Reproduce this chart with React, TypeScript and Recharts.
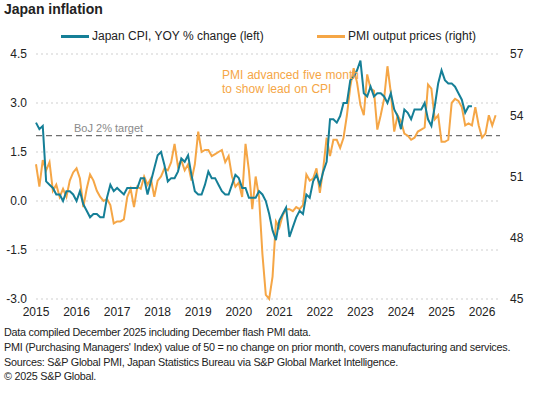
import React from 'react'
import { LineChart, Line, XAxis, YAxis, CartesianGrid, ReferenceLine } from 'recharts'

// monthly, Jan 2015 = index 0
const years = ['2015', '2016', '2017', '2018', '2019', '2020', '2021', '2022', '2023', '2024', '2025', '2026']

// Japan CPI, YOY % change (Jan 2015 - Oct 2025)
const cpiYoy = [
  2.4, 2.2, 2.3, 0.6, 0.5, 0.4, 0.2, 0.2, 0.0, 0.3, 0.3, 0.2,
  0.0, 0.3, -0.1, -0.3, -0.5, -0.4, -0.4, -0.5, -0.5, 0.1, 0.5, 0.3,
  0.4, 0.3, 0.2, 0.4, 0.4, 0.4, 0.4, 0.7, 0.7, 0.2, 0.6, 1.0,
  1.4, 1.5, 1.1, 0.6, 0.7, 0.7, 0.9, 1.3, 1.2, 1.4, 0.8, 0.3,
  0.2, 0.2, 0.5, 0.9, 0.7, 0.7, 0.5, 0.3, 0.2, 0.2, 0.5, 0.8,
  0.7, 0.4, 0.4, 0.1, 0.1, 0.1, 0.3, 0.2, 0.0, -0.4, -0.9, -1.2,
  -0.6, -0.4, -0.2, -1.1, -0.8, -0.5, -0.3, -0.4, 0.2, 0.1, 0.6, 0.8,
  0.5, 0.9, 1.2, 2.5, 2.5, 2.4, 2.6, 3.0, 3.0, 3.7, 3.8, 4.0,
  4.3, 3.3, 3.2, 3.5, 3.2, 3.3, 3.3, 3.2, 3.0, 3.3, 2.8, 2.6,
  2.2, 2.8, 2.7, 2.5, 2.8, 2.8, 2.8, 3.0, 2.5, 2.3, 2.9, 3.6,
  4.0, 3.7, 3.6, 3.6, 3.5, 3.3, 3.1, 2.7, 2.9, 2.9,
]

// PMI output prices index, plotted five months ahead (Aug 2014 - Dec 2025)
const pmiOutput = [
  51.6, 50.5, 51.8, 51.3, 51.7, 50.3, 50.6, 50.0, 50.4, 50.0, 50.8, 51.2,
  51.4, 50.9, 49.5, 50.4, 51.1, 50.8, 50.3, 50.0, 49.8, 49.9, 49.6, 48.7,
  48.8, 48.8, 48.9, 50.0, 50.4, 49.5, 50.5, 50.4, 51.0, 50.6, 50.9, 50.0,
  50.8, 51.0, 51.4, 51.3, 51.7, 52.6, 51.5, 51.8, 51.3, 51.6, 50.8, 51.6,
  53.2, 52.2, 52.3, 52.3, 52.0, 52.1, 52.2, 52.3, 51.7, 52.0, 51.0, 50.5,
  50.7, 50.0, 52.6, 51.3, 49.4, 51.0, 50.0, 47.2, 45.2, 45.0, 46.1, 48.8,
  48.5, 49.1, 49.4, 49.4, 49.3, 49.5, 49.4, 49.6, 51.1, 50.8, 50.9, 51.4,
  50.2, 51.4, 52.9, 52.0, 52.8, 52.8, 52.4, 52.9, 54.0, 55.4, 56.3, 55.6,
  54.5, 54.0, 56.0, 55.3, 55.2, 53.3, 54.0, 54.8, 56.4, 55.1, 53.2, 54.0,
  53.7, 53.1, 53.0, 52.8, 52.9, 53.2, 53.3, 53.4, 55.5, 55.3, 53.8, 54.0,
  52.7, 52.7, 52.8, 54.6, 54.8, 54.7, 54.4, 53.5, 53.6, 53.5, 54.4, 53.5,
  52.9, 53.1, 54.0, 53.5, 54.0,
]

const leftTicks = [-3, -1.5, 0, 1.5, 3, 4.5]
const rightTicks = [45, 48, 51, 54, 57]

const TEAL = '#157f97'
const ORANGE = '#f5a646'
const FONT = 'Arial, "Liberation Sans", sans-serif'

const data = pmiOutput.map((p, i) => ({
  m: i,
  cpi: i < cpiYoy.length ? cpiYoy[i] : null,
  pmi: p,
}))

export default function App() {
  return (
    <div style={{ position: 'relative', width: 548, height: 395, fontFamily: FONT, color: '#222', background: '#fff' }}>
      <style>{'body{margin:0}'}</style>
      <div style={{ position: 'absolute', left: 4, top: 1, fontSize: 14, fontWeight: 'bold' }}>Japan inflation</div>

      {/* legend */}
      <div style={{ position: 'absolute', left: 61, top: 35, width: 28, height: 2.5, background: TEAL }} />
      <div style={{ position: 'absolute', left: 92, top: 29, fontSize: 12 }}>Japan CPI, YOY % change (left)</div>
      <div style={{ position: 'absolute', left: 317, top: 35, width: 28, height: 2.5, background: ORANGE }} />
      <div style={{ position: 'absolute', left: 348, top: 29, fontSize: 12 }}>PMI output prices (right)</div>

      <LineChart width={548} height={395} data={data} margin={{ top: 54, right: 0, bottom: 76, left: 0 }} style={{ position: 'absolute', left: 0, top: 0 }}>
        <CartesianGrid vertical={false} yAxisId="left" stroke="#cfcfcf" strokeDasharray="2 3" />
        <XAxis
          dataKey="m"
          type="number"
          domain={[0, 137.3]}
          ticks={years.map((_, i) => i * 12)}
          tickFormatter={(v: number) => years[Math.round(v / 12)]}
          axisLine={false}
          tickLine={false}
          tickSize={0}
          tickMargin={8}
          height={20}
          tick={{ fontSize: 12, fill: '#222', fontFamily: FONT }}
        />
        <YAxis
          yAxisId="left"
          domain={[-3, 4.5]}
          ticks={leftTicks}
          tickFormatter={(v: number) => v.toFixed(1)}
          axisLine={false}
          tickLine={false}
          tickSize={0}
          tickMargin={9}
          width={36}
          tick={{ fontSize: 12, fill: '#222', fontFamily: FONT }}
        />
        <YAxis
          yAxisId="right"
          orientation="right"
          domain={[45, 57]}
          ticks={rightTicks}
          axisLine={false}
          tickLine={false}
          tickSize={0}
          tickMargin={10}
          width={48}
          tick={{ fontSize: 12, fill: '#222', fontFamily: FONT }}
        />
        <ReferenceLine
          yAxisId="left"
          y={2}
          stroke="#707070"
          strokeWidth={1.3}
          strokeDasharray="6 4"
          label={(props: any) => (
            <text x={props.viewBox.x + 38} y={props.viewBox.y - 4} fill="#8a8a8a" fontSize={11} fontFamily={FONT}>
              BoJ 2% target
            </text>
          )}
        />
        <Line yAxisId="right" dataKey="pmi" stroke={ORANGE} strokeWidth={2} dot={false} isAnimationActive={false} />
        <Line yAxisId="left" dataKey="cpi" stroke={TEAL} strokeWidth={2} dot={false} isAnimationActive={false} connectNulls={false} />
      </LineChart>

      <div style={{ position: 'absolute', left: 222, top: 68, fontSize: 12, lineHeight: '14px', color: ORANGE, wordSpacing: 0.5 }}>
        PMI advanced five month<br />to show lead on CPI
      </div>

      <div style={{ position: 'absolute', left: 4, top: 325, fontSize: 10.8, letterSpacing: -0.25, lineHeight: '14.8px', whiteSpace: 'nowrap' }}>
        <div>Data compiled December 2025 including December flash PMI data.</div>
        <div>PMI (Purchasing Managers' Index) value of 50 = no change on prior month, covers manufacturing and services.</div>
        <div>Sources: S&amp;P Global PMI, Japan Statistics Bureau via S&amp;P Global Market Intelligence.</div>
        <div>© 2025 S&amp;P Global.</div>
      </div>
    </div>
  )
}
